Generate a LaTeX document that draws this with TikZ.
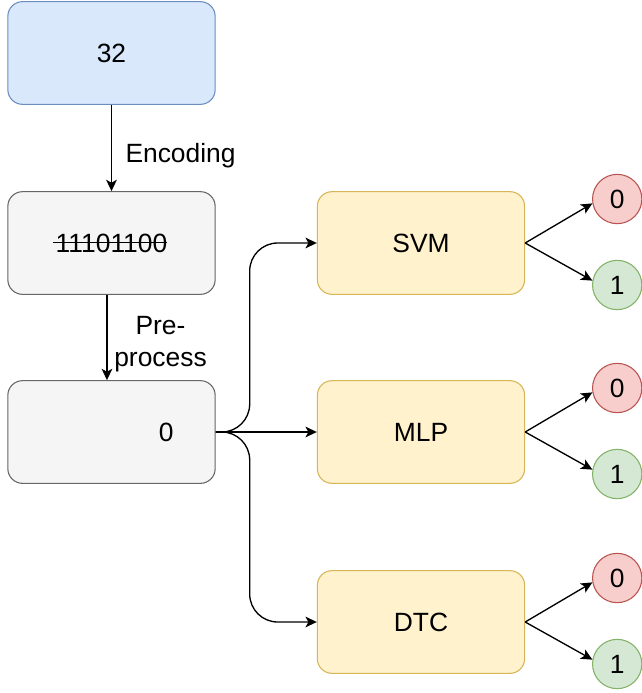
\documentclass[tikz,border=0pt]{standalone}
\usepackage{fontspec}
\setmainfont{Liberation Sans}
\usetikzlibrary{positioning,arrows.meta,calc}
\definecolor{InputBlue}{HTML}{DAE8FC}
\definecolor{InputBlueLine}{HTML}{6C8EBF}
\definecolor{StepGray}{HTML}{F5F5F5}
\definecolor{StepGrayLine}{HTML}{666666}
\definecolor{ModelYellow}{HTML}{FFF2CC}
\definecolor{ModelYellowLine}{HTML}{D6B656}
\definecolor{ZeroRed}{HTML}{F8CECC}
\definecolor{ZeroRedLine}{HTML}{B85450}
\definecolor{OneGreen}{HTML}{D5E8D4}
\definecolor{OneGreenLine}{HTML}{82B366}
\newcommand{\crossout}[1]{\setbox0\hbox{#1}\rlap{\hspace*{-0.1em}\rule[0.33em]{\dimexpr\wd0+0.1em}{0.07em}}\box0}

\begin{document}
\begin{tikzpicture}[x=0.75pt, y=-0.75pt,
  every node/.style={font=\fontsize{19.8}{24}\selectfont, align=center},
  box/.style={draw, rounded corners=11pt, line width=0.8pt, minimum width=155.5pt, minimum height=77pt},
  res/.style={circle, draw, line width=0.8pt, minimum size=37pt, inner sep=0pt},
  lbl/.style={inner sep=2pt},
  arr/.style={-{Stealth[length=8.5pt,width=8pt,inset=2.2pt]}, line width=1pt}]
  \useasboundingbox (0,0) rectangle (642,693);
  \node[box, fill=InputBlue, draw=InputBlueLine] (num) at (111.5,53) {32};
  \node[box, fill=StepGray, draw=StepGrayLine] (bin) at (111.5,243) {\crossout{11101100}};
  \node[box, fill=StepGray, draw=StepGrayLine] (zero) at (111.5,432) {\hspace*{82pt}0};
  \node[box, fill=ModelYellow, draw=ModelYellowLine] (svm) at (421,243) {SVM};
  \node[box, fill=ModelYellow, draw=ModelYellowLine] (mlp) at (421,432) {MLP};
  \node[box, fill=ModelYellow, draw=ModelYellowLine] (dtc) at (421,622) {DTC};
  \draw[arr] (num) -- node[lbl, right=8pt, pos=0.59] {Encoding} (bin);
  \draw[arr] ([xshift=-3.4pt]bin.south) -- node[lbl, right=3pt, pos=0.58] {Pre-\\process} ([xshift=-3.4pt]zero.north);
  \draw[arr, rounded corners=21pt] (zero.east) -- ++(34,0) |- (svm.west);
  \draw[arr] (zero) -- (mlp);
  \draw[arr, rounded corners=21pt] (zero.east) -- ++(34,0) |- (dtc.west);
  \foreach \m in {svm,mlp,dtc}{
    \node[res, fill=ZeroRed, draw=ZeroRedLine] (\m0) at ($(\m.east)+(92,-44)$) {0};
    \node[res, fill=OneGreen, draw=OneGreenLine] (\m1) at ($(\m.east)+(92,42)$) {1};
    \draw[arr] (\m.east) -- (\m0.190);
    \draw[arr] (\m.east) -- (\m1.170);
  }
\end{tikzpicture}
\end{document}
